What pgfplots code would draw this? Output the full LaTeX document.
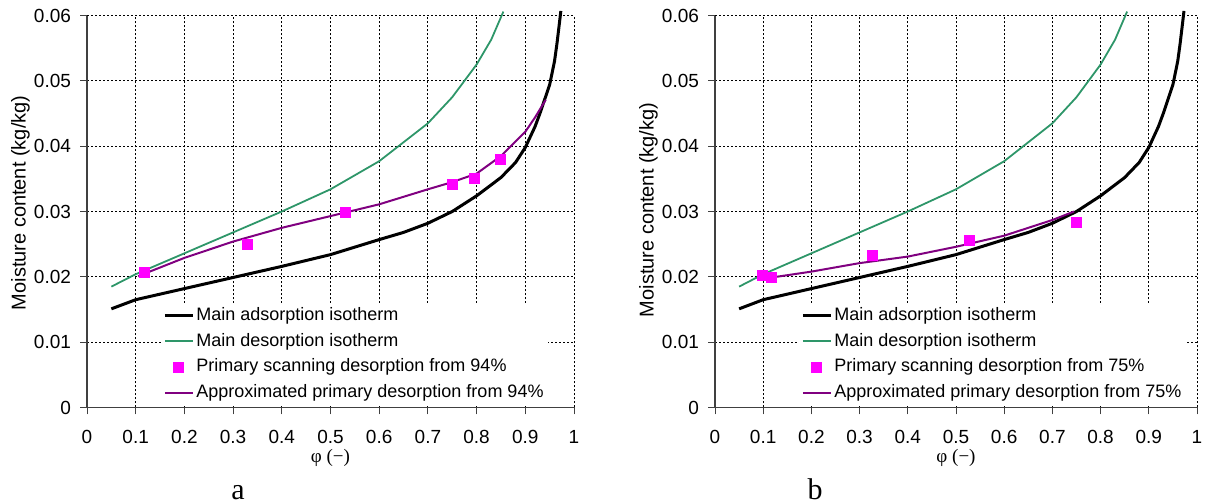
\documentclass[border=0pt]{standalone}
\usepackage{pgfplots}
\pgfplotsset{compat=1.18}
\usepackage{pgfplotstable}
\usepackage{fontspec}
\setmainfont{Liberation Sans}
\newfontfamily\seriffont{Liberation Serif}

\definecolor{desorb}{RGB}{46,150,105}
\definecolor{scanpt}{RGB}{255,0,255}
\definecolor{approx}{RGB}{128,0,128}

% main isotherms (same in both panels)
\pgfplotstableread{
x y
0.05 0.0151
0.10 0.0165
0.20 0.0182
0.30 0.0199
0.40 0.0216
0.50 0.0234
0.60 0.0257
0.65 0.0268
0.70 0.0282
0.75 0.0300
0.80 0.0324
0.85 0.0352
0.88 0.0375
0.90 0.0398
0.92 0.0430
0.93 0.0450
0.95 0.0494
0.96 0.0530
0.965 0.0557
0.970 0.0588
0.973 0.0607
}\adsorption

\pgfplotstableread{
x y
0.05 0.0185
0.10 0.0204
0.20 0.0236
0.30 0.0268
0.40 0.0300
0.50 0.0334
0.60 0.0377
0.70 0.0435
0.75 0.0475
0.80 0.0525
0.83 0.0563
0.855 0.0606
}\desorption

% panel a: from 94%
\pgfplotstableread{
x y
0.118 0.0207
0.329 0.0250
0.530 0.0299
0.750 0.0341
0.796 0.0351
0.850 0.0380
}\scanA

\pgfplotstableread{
x y
0.105 0.0201
0.20 0.0229
0.30 0.0254
0.40 0.0275
0.50 0.0293
0.60 0.0311
0.70 0.0334
0.75 0.0345
0.80 0.0358
0.85 0.0385
0.90 0.0422
0.92 0.0444
0.942 0.0471
}\approxA

% panel b: from 75%
\pgfplotstableread{
x y
0.098 0.0202
0.118 0.0199
0.327 0.0232
0.529 0.0256
0.750 0.0283
}\scanB

\pgfplotstableread{
x y
0.118 0.0199
0.20 0.0208
0.30 0.0221
0.40 0.0231
0.50 0.0246
0.60 0.0263
0.70 0.0287
0.745 0.0300
}\approxB

\pgfplotsset{
  isoaxis/.style={
    scale only axis,
    width=243.5pt, height=196pt,
    xmin=0, xmax=1, ymin=0, ymax=0.06,
    xtick={0,0.1,0.2,0.3,0.4,0.5,0.6,0.7,0.8,0.9,1},
    ytick={0,0.01,0.02,0.03,0.04,0.05,0.06},
    axis lines*=left,
    axis line style={black!75, line width=0.6pt},
    grid=major,
    major grid style={black, line width=0.45pt, dash pattern=on 1pt off 1pt},
    tick align=outside,
    major tick length=3.5pt,
    tick style={black!75, line width=0.5pt},
    scaled y ticks=false,
    /pgf/number format/assume math mode=true,
    y tick label style={/pgf/number format/.cd, fixed, precision=2, /tikz/.cd},
    tick label style={font=\fontsize{9.5}{11}\selectfont},
    xticklabel style={inner sep=0pt, yshift=-7.8pt},
    yticklabel style={xshift=-1pt},
    clip=false,
    xlabel={\seriffont φ (−)},
    xlabel style={at={(axis description cs:0.5,-0.128)}, anchor=center, inner sep=0pt, font=\fontsize{9.5}{11}\selectfont},
    ylabel={Moisture content (kg/kg)},
    ylabel style={anchor=center, font=\fontsize{10}{12}\selectfont},
    legend cell align=left,
    legend style={draw=none, fill=white, font=\fontsize{9}{11}\selectfont,
      inner sep=1pt, row sep=2.1pt,
      nodes={inner sep=1pt, text height=6.8pt, text depth=2pt}},
    legend image code/.code={\draw[mark repeat=2,mark phase=2,#1] plot coordinates {(0pt,0pt) (7pt,0pt) (14pt,0pt)};},
  },
  adsline/.style={black, line width=1.5pt, no marks},
  desline/.style={desorb, line width=0.9pt, no marks},
  scanmarks/.style={only marks, mark=square*, mark size=2.5pt, mark options={draw=scanpt, fill=scanpt, line width=0pt}},
  apline/.style={approx, line width=1pt, no marks},
}

\begin{document}
\begin{tikzpicture}
\useasboundingbox (0,0) rectangle (603pt,251.5pt);

\begin{axis}[isoaxis, at={(43.5pt,47.75pt)}, anchor=south west,
  ylabel style={at={(axis description cs:-0.1366,0.522)}},
  legend style={at={(axis description cs:0.152,0.2686)}, anchor=north west}]
\addplot[adsline] table {\adsorption};
\addlegendentry{Main adsorption isotherm}
\addplot[desline] table {\desorption};
\addlegendentry{Main desorption isotherm}
\addplot[scanmarks] table {\scanA};
\addlegendentry{Primary scanning desorption from 94\%}
\addplot[apline] table {\approxA};
\addlegendentry{Approximated primary desorption from 94\%}
\end{axis}

\begin{axis}[isoaxis, at={(357.5pt,47.75pt)}, anchor=south west, width=241pt,
  ylabel style={at={(axis description cs:-0.138,0.504)}},
  legend style={at={(axis description cs:0.174,0.2686)}, anchor=north west}]
\addplot[adsline] table {\adsorption};
\addlegendentry{Main adsorption isotherm}
\addplot[desline] table {\desorption};
\addlegendentry{Main desorption isotherm}
\addplot[scanmarks] table {\scanB};
\addlegendentry{Primary scanning desorption from 75\%}
\addplot[apline] table {\approxB};
\addlegendentry{Approximated primary desorption from 75\%}
\end{axis}

\node[font=\seriffont\fontsize{15}{18}\selectfont, anchor=base] at (119pt,1.8pt) {a};
\node[font=\seriffont\fontsize{15}{18}\selectfont, anchor=base] at (407.5pt,1.8pt) {b};
\end{tikzpicture}
\end{document}
